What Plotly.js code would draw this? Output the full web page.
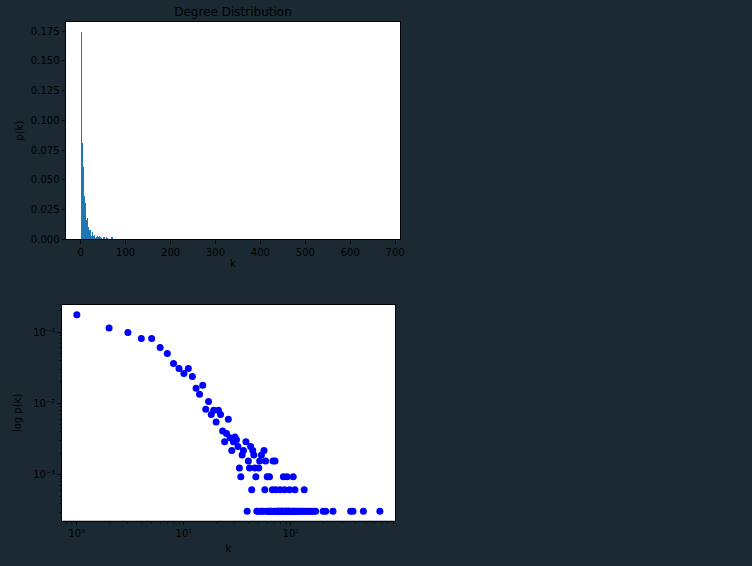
<!DOCTYPE html>
<html>
<head>
<meta charset="utf-8">
<script src="https://cdn.plot.ly/plotly-3.0.1.min.js"></script>
<style>
html,body{margin:0;padding:0;background:#1b2a32;}
#chart{width:752px;height:566px;}
#chart .bars path{shape-rendering:crispEdges;}
</style>
</head>
<body>
<div id="chart"></div>
<script>
// Degree values k and their probabilities p(k)
const kValues = [1,2,3,4,5,6,7,8,9,10,11,12,13,14,15,16,17,18,19,20,21,22,23,24,25,26,27,28,29,30,31,32,33,34,35,36,38,39,40,41,42,43,44,45,46,47,48,49,50,51,52,53,54,55,56,57,58,59,60,61,62,63,64,65,66,67,68,69,70,71,72,73,74,75,76,77,78,79,80,81,82,83,84,85,86,87,88,89,90,91,92,93,94,95,96,97,98,100,102,104,105,106,108,109,111,114,117,120,123,127,131,133,136,141,146,151,157,163,170,200,211,247,361,380,475,677];
const pValues = [0.174,0.114,0.098,0.081,0.081,0.0605,0.050,0.0362,0.0309,0.0263,0.0309,0.0239,0.0163,0.0134,0.0179,0.0083,0.0106,0.0070,0.0080,0.0055,0.0080,0.0070,0.0041,0.0029,0.0038,0.0060,0.0033,0.0022,0.0029,0.0034,0.0031,0.0025,0.00125,0.00094,0.0019,0.0022,0.0029,0.00031,0.00156,0.00125,0.0025,0.00062,0.0022,0.0019,0.00125,0.00094,0.00031,0.00031,0.00125,0.00156,0.00031,0.0019,0.00031,0.00031,0.0022,0.00062,0.00156,0.00031,0.00094,0.00031,0.00031,0.00094,0.00031,0.00031,0.00031,0.00062,0.00156,0.00031,0.00031,0.00156,0.00062,0.00031,0.00031,0.00031,0.00031,0.00031,0.00031,0.00062,0.00031,0.00031,0.00031,0.00031,0.00031,0.00094,0.00031,0.00062,0.00031,0.00031,0.00031,0.00031,0.00094,0.00031,0.00031,0.00031,0.00031,0.00062,0.00031,0.00031,0.00031,0.00031,0.00094,0.00031,0.00031,0.00062,0.00031,0.00031,0.00031,0.00031,0.00031,0.00031,0.00031,0.00062,0.00031,0.00031,0.00031,0.00031,0.00031,0.00031,0.00031,0.00031,0.00031,0.00031,0.00031,0.00031,0.00031,0.00031];

const barTickVals = [0,100,200,300,400,500,600,700];
const barYTickVals = [0,0.025,0.05,0.075,0.1,0.125,0.15,0.175];
const logXTickVals = [1,10,100];
const logXTickText = ['10\u2070','10\u00b9','10\u00b2'];
const logYTickVals = [0.001,0.01,0.1];
const logYTickText = ['10\u207b\u00b3','10\u207b\u00b2','10\u207b\u00b9'];

function minorVals(decades, lo, hi){
  const out=[];
  decades.forEach(d=>{for(let m=2;m<=9;m++){const v=m*Math.pow(10,d); if(v>=lo && v<=hi) out.push(v);}});
  return out;
}

const font = {family:'DejaVu Sans, sans-serif', size:10, color:'#000'};

const axisCommon = {
  showline:true, mirror:true, linecolor:'#000', linewidth:1,
  ticks:'outside', ticklen:3.5, tickwidth:0.8, tickcolor:'#000',
  showgrid:false, zeroline:false, tickfont:font, fixedrange:true
};

const traces = [
  {type:'bar', x:kValues, y:pValues, xaxis:'x', yaxis:'y', width:1.6,
   marker:{color:'#1f77b4', line:{width:0}}, hoverinfo:'skip'},
  {type:'scatter', mode:'markers', x:kValues, y:pValues, xaxis:'x2', yaxis:'y2',
   marker:{color:'#0000ff', size:7}, hoverinfo:'skip'}
];

const layout = {
  width:752, height:566,
  paper_bgcolor:'#1b2a32', plot_bgcolor:'#ffffff',
  margin:{l:0,r:0,t:0,b:0},
  showlegend:false, font:font,
  title:{text:'Degree Distribution', font:{family:'DejaVu Sans, sans-serif', size:12, color:'#000'},
         x:233/752, xanchor:'center', y:1-12/566, yanchor:'middle'},
  xaxis:Object.assign({}, axisCommon, {
    domain:[66/752, 400/752], anchor:'y', range:[-32.8,710.8],
    tickmode:'array', tickvals:barTickVals,
    title:{text:'k', font:font, standoff:3}
  }),
  yaxis:Object.assign({}, axisCommon, {
    domain:[326.7/566, 544/566], anchor:'x', range:[0,0.1827],
    tickmode:'array', tickvals:barYTickVals, tickformat:'.3f',
    title:{text:'p(k)', font:font, standoff:5}
  }),
  xaxis2:Object.assign({}, axisCommon, {
    domain:[61.7/752, 395/752], anchor:'y2', type:'log', range:[-0.1415,2.972],
    tickmode:'array', tickvals:logXTickVals, ticktext:logXTickText,
    minor:{tickmode:'array', tickvals:minorVals([-1,0,1,2], 0.73, 930), ticks:'outside', ticklen:2, tickwidth:0.6, tickcolor:'#000', showgrid:false},
    title:{text:'k', font:font, standoff:6}
  }),
  yaxis2:Object.assign({}, axisCommon, {
    domain:[45.3/566, 261/566], anchor:'x2', type:'log', range:[-3.642,-0.622],
    tickmode:'array', tickvals:logYTickVals, ticktext:logYTickText,
    minor:{tickmode:'array', tickvals:minorVals([-4,-3,-2,-1], 0.00023, 0.238), ticks:'outside', ticklen:2, tickwidth:0.6, tickcolor:'#000', showgrid:false},
    title:{text:'log p(k)', font:font, standoff:9}
  })
};

Plotly.newPlot('chart', traces, layout, {displayModeBar:false, staticPlot:true});
</script>
</body>
</html>
